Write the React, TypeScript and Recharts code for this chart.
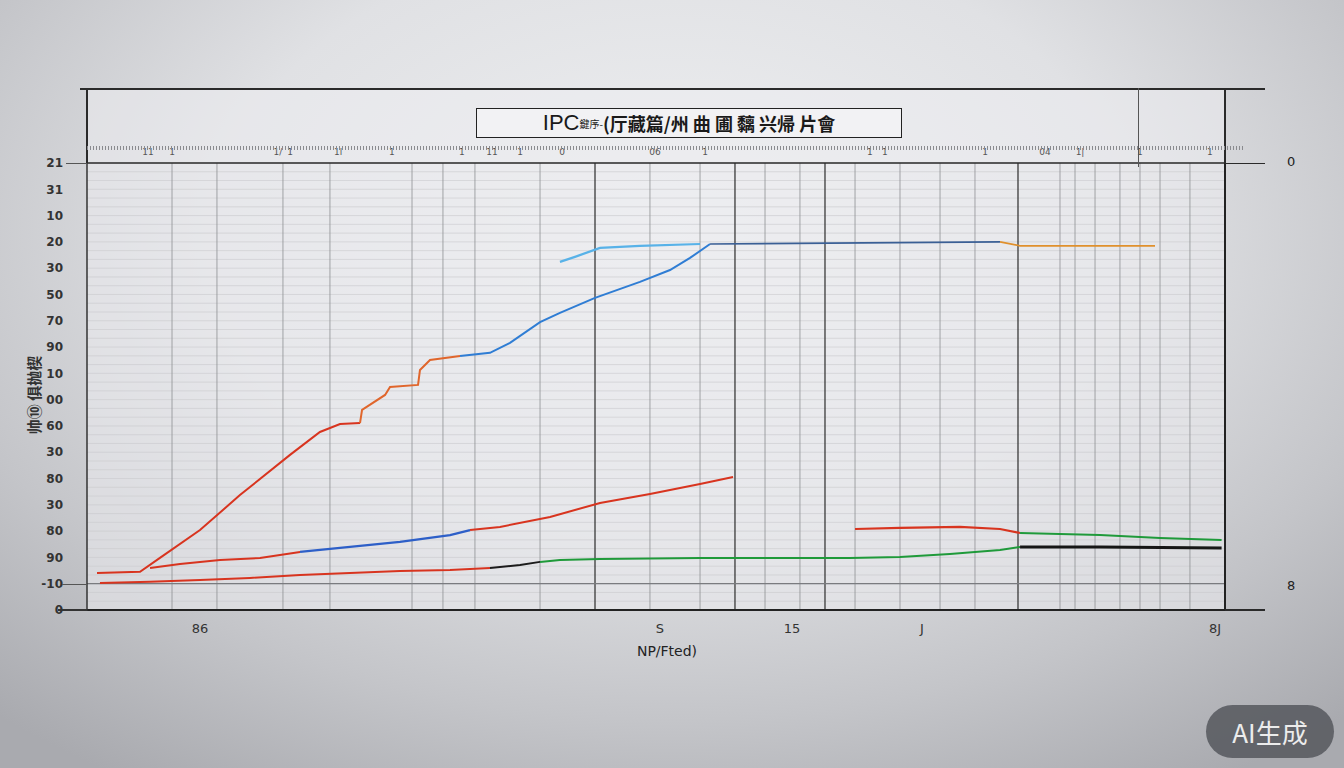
import { CartesianGrid, Line, LineChart, ReferenceLine, XAxis, YAxis } from "recharts";

// y ticks 0..17, labels read bottom -> top
const yTickLabels = ["0", "-10", "90", "80", "30", "80", "30", "60", "00", "10", "90", "70", "50", "30", "20", "10", "31", "21"];
const yTicks = yTickLabels.map((_, i) => i);

const xTicks = [9.93, 50.35, 61.95, 73.37, 99.12];
const xTickLabels = ["86", "S", "15", "J", "8J"];

const topTicks = [5.36, 7.47, 16.78, 17.84, 22.06, 26.8, 32.95, 35.59, 38.05, 41.74, 49.91, 54.31, 68.8, 70.12, 78.91, 84.18, 87.26, 92.53, 98.68];
const topTickLabels = ["11", "1", "1/", "1", "1l", "1", "1", "11", "1", "0", "06", "1", "1", "1", "1", "04", "1|", "1", "1"];

const rightTicks = [16.2, 15.29, 14.42, 13.66, 11.94, 10.46, 8.86, 7.57, 6.01, 4.6, 3.61, 1.86];
const rightTickLabels = ["0a", "8n", "8s", "19", "3n", "30", "69", "76", "46", "3r", "3k", "8"];

const gridMajorX = [44.64, 56.94, 64.85, 81.81];
const gridMinorX = [7.47, 11.42, 17.22, 21.35, 28.56, 31.28, 34.09, 39.81, 49.47, 53.87, 59.58, 62.65, 67.49, 71.44, 74.96, 78.03, 85.5, 86.82, 88.58, 90.77, 92.53, 94.29, 96.92];
const fineY = Array.from({ length: 51 }, (_, i) => (i + 1) / 3);

// main rising curve, split by colour
const riseRedX = [0.88, 4.66, 6.41, 9.93, 13.44, 17.84, 20.47, 22.23, 23.99];
const riseRedY = [1.41, 1.45, 1.98, 3.04, 4.37, 5.9, 6.77, 7.07, 7.11];
const riseOrangeX = [23.99, 24.17, 26.19, 26.63, 29.09, 29.26, 30.14, 32.78];
const riseOrangeY = [7.11, 7.61, 8.18, 8.48, 8.56, 9.13, 9.51, 9.66];
const riseBlueX = [32.78, 35.41, 37.17, 39.81, 41.56, 44.64, 48.59, 51.23, 52.99, 54.75];
const riseBlueY = [9.66, 9.78, 10.16, 10.95, 11.3, 11.87, 12.48, 12.93, 13.39, 13.92];
const plateauX = [54.75, 80.23];
const plateauY = [13.92, 14.0];
const plateauOrangeX = [80.23, 81.99, 93.85];
const plateauOrangeY = [14.0, 13.85, 13.85];
const lightBlueX = [41.56, 42.88, 45.08, 48.59, 53.87];
const lightBlueY = [13.24, 13.43, 13.77, 13.85, 13.92];

// middle curve
const midRedX = [5.54, 8.17, 11.69, 15.2, 18.72];
const midRedY = [1.6, 1.75, 1.9, 1.98, 2.21];
const midBlueX = [18.72, 22.23, 27.5, 31.9, 33.66];
const midBlueY = [2.21, 2.36, 2.59, 2.85, 3.04];
const midRed2X = [33.66, 36.29, 40.69, 45.08, 49.47, 53.87, 56.77];
const midRed2Y = [3.04, 3.16, 3.54, 4.07, 4.41, 4.79, 5.06];

// low curve
const lowRedX = [1.14, 5.54, 9.93, 14.32, 18.72, 23.11, 27.5, 31.9, 35.41];
const lowRedY = [1.03, 1.07, 1.14, 1.22, 1.33, 1.41, 1.48, 1.52, 1.6];
const lowBlackX = [35.41, 38.05, 39.81];
const lowBlackY = [1.6, 1.71, 1.83];
const lowGreenX = [39.81, 41.56, 45.08, 53.87, 67.05, 71.44, 75.83, 80.23, 81.99];
const lowGreenY = [1.83, 1.9, 1.94, 1.98, 1.98, 2.02, 2.13, 2.28, 2.4];
const tailBlackX = [81.99, 89.01, 99.7];
const tailBlackY = [2.4, 2.4, 2.36];

// right-hand curve
const rightRedX = [67.49, 71.44, 76.71, 80.23, 81.99];
const rightRedY = [3.08, 3.12, 3.16, 3.08, 2.93];
const rightGreenX = [81.99, 89.01, 94.29, 99.7];
const rightGreenY = [2.93, 2.85, 2.74, 2.66];

const zip = (xs: number[], ys: number[]) => xs.map((x, i) => ({ x, y: ys[i] }));

const series = [
  { key: "lowRed", data: zip(lowRedX, lowRedY), color: "#d8341f", w: 2 },
  { key: "lowBlack", data: zip(lowBlackX, lowBlackY), color: "#1c1c1c", w: 2 },
  { key: "lowGreen", data: zip(lowGreenX, lowGreenY), color: "#1f9a3a", w: 2 },
  { key: "tailBlack", data: zip(tailBlackX, tailBlackY), color: "#161616", w: 3 },
  { key: "rightRed", data: zip(rightRedX, rightRedY), color: "#d8341f", w: 2.2 },
  { key: "rightGreen", data: zip(rightGreenX, rightGreenY), color: "#1f9a3a", w: 2 },
  { key: "midRed", data: zip(midRedX, midRedY), color: "#d8341f", w: 2 },
  { key: "midBlue", data: zip(midBlueX, midBlueY), color: "#2d5fc8", w: 2.2 },
  { key: "midRed2", data: zip(midRed2X, midRed2Y), color: "#d8341f", w: 2 },
  { key: "lightBlue", data: zip(lightBlueX, lightBlueY), color: "#58b2e8", w: 2.2, axis: "top" },
  { key: "riseRed", data: zip(riseRedX, riseRedY), color: "#d8341f", w: 2 },
  { key: "riseOrange", data: zip(riseOrangeX, riseOrangeY), color: "#e0662c", w: 2 },
  { key: "riseBlue", data: zip(riseBlueX, riseBlueY), color: "#2f7dd4", w: 2 },
  { key: "plateau", data: zip(plateauX, plateauY), color: "#3a5f95", w: 1.6 },
  { key: "plateauOrange", data: zip(plateauOrangeX, plateauOrangeY), color: "#e0902c", w: 1.6 },
];

const line = (left: number, top: number, width: number, height: number, bg = "#2a2a2a") => (
  <div style={{ position: "absolute", left, top, width, height, background: bg }} />
);

export default function App() {
  return (
    <div
      style={{
        position: "absolute",
        left: 0,
        top: 0,
        width: 1344,
        height: 768,
        overflow: "hidden",
        background: "radial-gradient(ellipse 75% 85% at 50% 30%, #eeeff1 0%, #e0e1e4 45%, #c4c5c9 75%, #a9aaaf 100%)",
        fontFamily: "'DejaVu Sans', sans-serif",
      }}
    >
      <div style={{ position: "absolute", left: 87, top: 88, width: 1138, height: 522, background: "rgba(236,237,240,0.55)" }} />
      <LineChart
        width={1344}
        height={768}
        margin={{ top: 143, right: 79, bottom: 128, left: 47 }}
        style={{ position: "absolute", left: 0, top: 0 }}
      >
        <CartesianGrid horizontal={false} vertical={false} />
        {fineY.map((v) => (
          <ReferenceLine key={"fy" + v} y={v} stroke="#c9cacd" strokeWidth={0.6} />
        ))}
        {gridMinorX.map((v) => (
          <ReferenceLine key={"gx" + v} x={v} stroke="#8e8f93" strokeWidth={0.8} />
        ))}
        {gridMajorX.map((v) => (
          <ReferenceLine key={"gX" + v} x={v} stroke="#3a3a3a" strokeWidth={1.3} />
        ))}
        <ReferenceLine y={1} stroke="#7a7b7f" strokeWidth={1.2} />
        <ReferenceLine y={17} stroke="#2a2a2a" strokeWidth={1.4} />
        <XAxis
          dataKey="x"
          type="number"
          domain={[0, 100]}
          ticks={xTicks}
          tickFormatter={(v) => xTickLabels[xTicks.indexOf(v)] ?? ""}
          tick={{ fontSize: 13, fill: "#333" }}
          tickLine={false}
          tickMargin={8}
          axisLine={{ stroke: "#222", strokeWidth: 2 }}
          height={30}
          label={{ value: "NP/Fted)", position: "insideBottom", offset: -16, dx: 11, fontSize: 14, fill: "#222" }}
        />
        <XAxis
          xAxisId="top"
          orientation="top"
          dataKey="x"
          type="number"
          domain={[0, 100]}
          ticks={topTicks}
          interval={0}
          tickFormatter={(v) => topTickLabels[topTicks.indexOf(v)] ?? ""}
          tick={{ fontSize: 9, fill: "#555" }}
          tickLine={false}
          tickMargin={2}
          axisLine={false}
          height={20}
        />
        <YAxis
          type="number"
          domain={[0, 17]}
          ticks={yTicks}
          tickFormatter={(v) => yTickLabels[v] ?? ""}
          tick={{ fontSize: 12, fill: "#333", fontWeight: 600 }}
          tickLine={false}
          tickMargin={18}
          axisLine={{ stroke: "#333", strokeWidth: 1.5 }}
          width={40}
          interval={0}
        />
        <YAxis
          yAxisId="r"
          orientation="right"
          type="number"
          domain={[0, 17]}
          ticks={rightTicks}
          tickFormatter={(v) => rightTickLabels[rightTicks.indexOf(v)] ?? ""}
          tick={{ fontSize: 10, fill: "#555" }}
          tickSize={12}
          tickLine={{ stroke: "#555" }}
          axisLine={{ stroke: "#222", strokeWidth: 2 }}
          width={40}
          interval={0}
        />
        {series.map((s) => (
          <Line
            key={s.key}
            xAxisId={s.axis === "top" ? "top" : 0}
            data={s.data}
            dataKey="y"
            type="linear"
            stroke={s.color}
            strokeWidth={s.w}
            dot={false}
            isAnimationActive={false}
          />
        ))}
      </LineChart>

      {/* frame */}
      {line(80, 88, 1185, 1.5)}
      {line(86, 88, 1.5, 75)}
      {line(1224, 88, 2, 75)}
      {line(1138, 88, 1, 79, "#555")}
      {line(1225, 163, 40, 1.4)}
      {line(80, 609, 8, 2)}
      {line(1225, 609, 40, 2)}
      {line(66, 163, 21, 1, "#555")}
      {line(62, 584, 25, 1, "#555")}
      {line(58, 609, 29, 1.5, "#333")}
      <div
        style={{
          position: "absolute",
          left: 87,
          top: 146,
          width: 1158,
          height: 4,
          background: "repeating-linear-gradient(90deg, #8a8b8f 0px, #8a8b8f 1px, transparent 1px, transparent 3px)",
        }}
      />

      {/* title */}
      <div
        style={{
          position: "absolute",
          left: 476,
          top: 108,
          width: 424,
          height: 28,
          border: "1.5px solid #222",
          background: "#f2f2f4",
          display: "flex",
          alignItems: "center",
          justifyContent: "center",
          color: "#1a1a1a",
          fontFamily: "'Noto Sans CJK SC', 'DejaVu Sans', sans-serif",
          whiteSpace: "nowrap",
        }}
      >
        <span style={{ fontSize: 22, fontFamily: "'Liberation Sans', sans-serif" }}>IPC</span>
        <span style={{ fontSize: 10 }}>鍵序-</span>
        <span style={{ fontSize: 18, fontWeight: 700 }}>(厅藏篇/州 曲 圃 黐 兴帰 片會</span>
      </div>

      {/* y title */}
      <div
        style={{
          position: "absolute",
          left: 33,
          top: 395,
          transform: "translate(-50%, -50%) rotate(-90deg)",
          fontSize: 15,
          fontWeight: 700,
          color: "#333",
          whiteSpace: "nowrap",
          fontFamily: "'Noto Sans CJK SC', sans-serif",
        }}
      >
        帅⑩ 俱抛楔
      </div>

      <div style={{ position: "absolute", left: 1287, top: 154, fontSize: 13, color: "#222" }}>0</div>
      <div style={{ position: "absolute", left: 1287, top: 578, fontSize: 13, color: "#222" }}>8</div>

      {/* badge */}
      <div
        style={{
          position: "absolute",
          left: 1206,
          top: 705,
          width: 128,
          height: 53,
          borderRadius: 27,
          background: "rgba(88,90,96,0.88)",
          color: "#ececec",
          fontSize: 26,
          display: "flex",
          alignItems: "center",
          justifyContent: "center",
          fontFamily: "'Noto Sans CJK SC', sans-serif",
        }}
      >
        AI生成
      </div>
    </div>
  );
}
